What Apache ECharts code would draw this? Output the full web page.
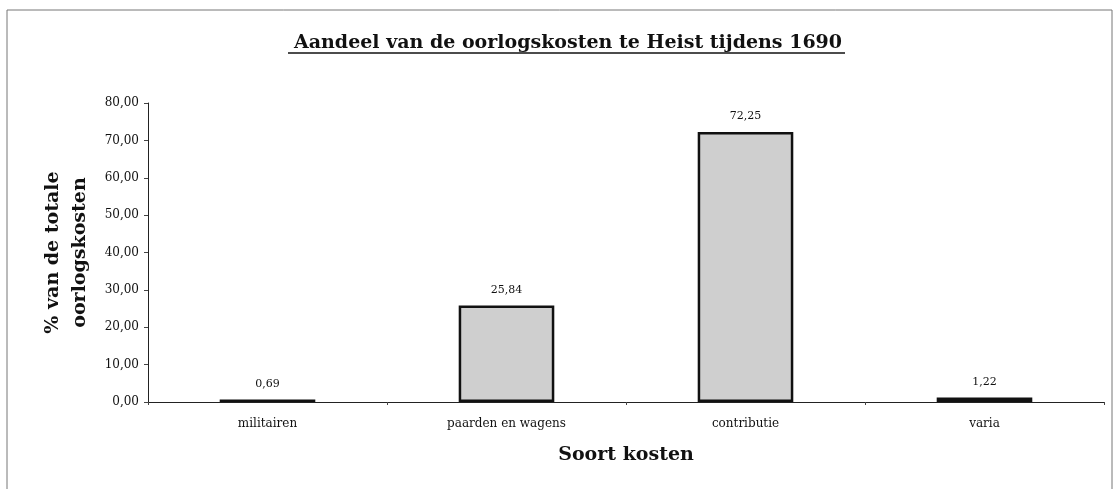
<!DOCTYPE html>
<html>
<head>
<meta charset="utf-8">
<script src="https://cdn.jsdelivr.net/npm/echarts@6/dist/echarts.min.js"></script>
<style>
  html, body { margin: 0; padding: 0; background: #fff; }
  #main { width: 1116px; height: 489px; }
</style>
</head>
<body>
<div id="main"></div>
<script>
var categories = ['militairen', 'paarden en wagens', 'contributie', 'varia']
var percentages = [0.69, 25.84, 72.25, 1.22]
var yTicks = [0, 10, 20, 30, 40, 50, 60, 70, 80]

function komma(v) {
    return v.toFixed(2).replace('.', ',')
}

var serif = 'DejaVu Serif'
var myChart = echarts.init(document.getElementById('main'))

myChart.setOption({
    animation: false,
    backgroundColor: '#fff',
    title: {
        text: 'Aandeel van de oorlogskosten te Heist tijdens 1690',
        left: 289,
        top: 29,
        textStyle: { fontFamily: serif, fontSize: 19, fontWeight: 'bold', color: '#111' }
    },
    graphic: [
        // kader rond de grafiek
        { type: 'rect', shape: { x: 7, y: 10, width: 1105, height: 490 }, style: { fill: 'none', stroke: '#777', lineWidth: 1 } },
        // onderstreping van de titel
        { type: 'line', shape: { x1: 288, y1: 53, x2: 845, y2: 53 }, style: { stroke: '#111', lineWidth: 1.5 } }
    ],
    grid: { left: 148, right: 12, top: 103, bottom: 87 },
    xAxis: {
        type: 'category',
        data: categories,
        name: 'Soort kosten',
        nameLocation: 'middle',
        nameGap: 44,
        nameTextStyle: { fontFamily: serif, fontSize: 19, fontWeight: 'bold', color: '#111' },
        axisLine: { lineStyle: { color: '#222', width: 1 } },
        axisTick: { show: true, alignWithLabel: false, length: 3, lineStyle: { color: '#444' } },
        axisLabel: { fontFamily: serif, fontSize: 12, color: '#111', margin: 16 }
    },
    yAxis: {
        type: 'value',
        min: yTicks[0],
        max: yTicks[yTicks.length - 1],
        interval: 10,
        name: '% van de totale\noorlogskosten',
        nameLocation: 'middle',
        nameGap: 50,
        nameTextStyle: { fontFamily: serif, fontSize: 19, fontWeight: 'bold', color: '#111', lineHeight: 27 },
        axisLine: { show: true, lineStyle: { color: '#222', width: 1 } },
        axisTick: { show: true, length: 4, lineStyle: { color: '#444' } },
        splitLine: { show: false },
        axisLabel: {
            fontFamily: serif, fontSize: 12, color: '#111', margin: 9,
            formatter: function (v) { return komma(v) }
        }
    },
    series: [{
        type: 'bar',
        data: percentages,
        barWidth: '40%',
        itemStyle: { color: '#cfcfcf', borderColor: '#111', borderWidth: 2.5 },
        label: {
            show: true,
            position: 'top',
            distance: 10,
            fontFamily: serif,
            fontSize: 11,
            color: '#111',
            formatter: function (p) { return komma(p.value) }
        }
    }]
})
</script>
</body>
</html>
